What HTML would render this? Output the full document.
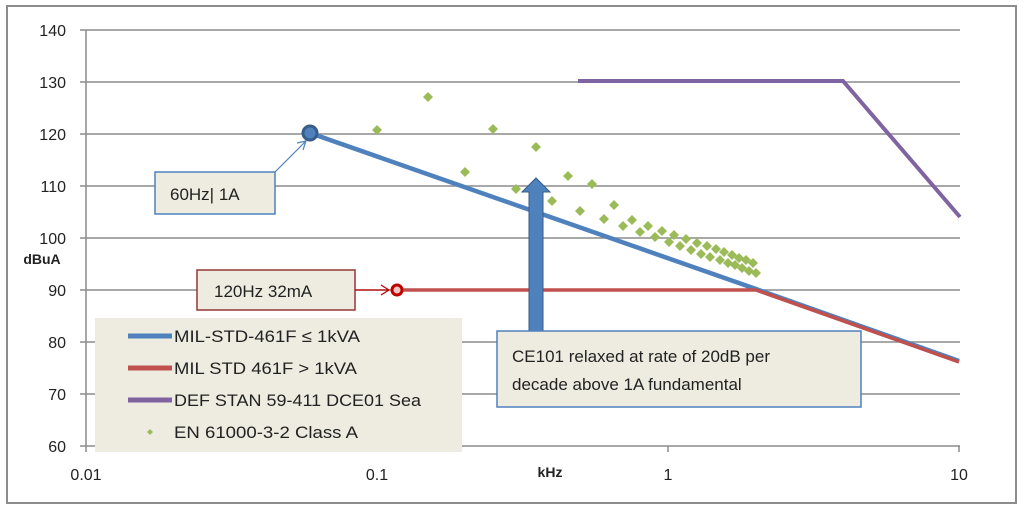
<!DOCTYPE html>
<html><head><style>
html,body{margin:0;padding:0;background:#fff;}
svg{display:block;font-family:"Liberation Sans",sans-serif;}
</style></head><body>
<svg width="1024" height="509" viewBox="0 0 1024 509" xmlns="http://www.w3.org/2000/svg">
<rect x="7" y="6" width="1009" height="497" fill="#fff" stroke="#8c8c8c" stroke-width="2"/>
<g stroke="#8c8c8c" stroke-width="1.5">
<line x1="86" y1="30" x2="960" y2="30"/><line x1="86" y1="82" x2="960" y2="82"/>
<line x1="86" y1="134" x2="960" y2="134"/><line x1="86" y1="186" x2="960" y2="186"/>
<line x1="86" y1="238" x2="960" y2="238"/><line x1="86" y1="290" x2="960" y2="290"/>
<line x1="86" y1="342" x2="960" y2="342"/><line x1="86" y1="394" x2="960" y2="394"/>
<line x1="86" y1="446" x2="960" y2="446"/>
<line x1="86" y1="30" x2="86" y2="452"/>
<line x1="80" y1="30" x2="86" y2="30"/><line x1="80" y1="82" x2="86" y2="82"/><line x1="80" y1="134" x2="86" y2="134"/><line x1="80" y1="186" x2="86" y2="186"/><line x1="80" y1="238" x2="86" y2="238"/><line x1="80" y1="290" x2="86" y2="290"/><line x1="80" y1="342" x2="86" y2="342"/><line x1="80" y1="394" x2="86" y2="394"/><line x1="80" y1="446" x2="86" y2="446"/>
<line x1="377" y1="446" x2="377" y2="452"/><line x1="668" y1="446" x2="668" y2="452"/><line x1="959" y1="446" x2="959" y2="452"/>
</g>
<g font-size="16" fill="#222" text-anchor="end">
<text x="66" y="36">140</text><text x="66" y="88">130</text><text x="66" y="140">120</text><text x="66" y="192">110</text><text x="66" y="244">100</text><text x="66" y="296">90</text><text x="66" y="348">80</text><text x="66" y="400">70</text><text x="66" y="452">60</text>
</g>
<g font-size="16" fill="#222" text-anchor="middle">
<text x="86" y="480">0.01</text><text x="377" y="480">0.1</text><text x="668" y="480">1</text><text x="959" y="480">10</text>
</g>
<text x="550" y="477" font-size="14" font-weight="bold" text-anchor="middle" fill="#222">kHz</text>
<text x="42" y="264" font-size="14" font-weight="bold" text-anchor="middle" fill="#222">dBuA</text>
<!-- series -->
<polyline points="578,81 843,81 960,217" fill="none" stroke="#8064a2" stroke-width="4"/>
<polyline points="310,133 756,289 959,361" fill="none" stroke="#4f81bd" stroke-width="4.5"/>
<polyline points="397,290 756,290 959,362" fill="none" stroke="#c0504d" stroke-width="3.5"/>
<circle cx="310" cy="133" r="7" fill="#4f81bd" stroke="#385d8a" stroke-width="3"/>
<circle cx="397" cy="290" r="5" fill="#f2c4c4" stroke="#c00000" stroke-width="3"/>
<g fill="#9bbb59">
<path d="M0,-5 L5,0 L0,5 L-5,0Z" transform="translate(377,130)"/>
<path d="M0,-5 L5,0 L0,5 L-5,0Z" transform="translate(428,97)"/>
<path d="M0,-5 L5,0 L0,5 L-5,0Z" transform="translate(493,129)"/>
<path d="M0,-5 L5,0 L0,5 L-5,0Z" transform="translate(465,172)"/>
<path d="M0,-5 L5,0 L0,5 L-5,0Z" transform="translate(536,147)"/>
<path d="M0,-5 L5,0 L0,5 L-5,0Z" transform="translate(516,189)"/>
<path d="M0,-5 L5,0 L0,5 L-5,0Z" transform="translate(568,176)"/>
<path d="M0,-5 L5,0 L0,5 L-5,0Z" transform="translate(552,201)"/>
<path d="M0,-5 L5,0 L0,5 L-5,0Z" transform="translate(592,184)"/>
<path d="M0,-5 L5,0 L0,5 L-5,0Z" transform="translate(580,211)"/>
<path d="M0,-5 L5,0 L0,5 L-5,0Z" transform="translate(614,205)"/>
<path d="M0,-5 L5,0 L0,5 L-5,0Z" transform="translate(604,219)"/>
<path d="M0,-5 L5,0 L0,5 L-5,0Z" transform="translate(632,220)"/>
<path d="M0,-5 L5,0 L0,5 L-5,0Z" transform="translate(623,226)"/>
<path d="M0,-5 L5,0 L0,5 L-5,0Z" transform="translate(648,226)"/>
<path d="M0,-5 L5,0 L0,5 L-5,0Z" transform="translate(640,232)"/>
<path d="M0,-5 L5,0 L0,5 L-5,0Z" transform="translate(662,231)"/>
<path d="M0,-5 L5,0 L0,5 L-5,0Z" transform="translate(655,237)"/>
<path d="M0,-5 L5,0 L0,5 L-5,0Z" transform="translate(674,235)"/>
<path d="M0,-5 L5,0 L0,5 L-5,0Z" transform="translate(669,242)"/>
<path d="M0,-5 L5,0 L0,5 L-5,0Z" transform="translate(686,239)"/>
<path d="M0,-5 L5,0 L0,5 L-5,0Z" transform="translate(680,246)"/>
<path d="M0,-5 L5,0 L0,5 L-5,0Z" transform="translate(697,243)"/>
<path d="M0,-5 L5,0 L0,5 L-5,0Z" transform="translate(691,250)"/>
<path d="M0,-5 L5,0 L0,5 L-5,0Z" transform="translate(707,246)"/>
<path d="M0,-5 L5,0 L0,5 L-5,0Z" transform="translate(701,254)"/>
<path d="M0,-5 L5,0 L0,5 L-5,0Z" transform="translate(716,249)"/>
<path d="M0,-5 L5,0 L0,5 L-5,0Z" transform="translate(710,257)"/>
<path d="M0,-5 L5,0 L0,5 L-5,0Z" transform="translate(724,252)"/>
<path d="M0,-5 L5,0 L0,5 L-5,0Z" transform="translate(720,260)"/>
<path d="M0,-5 L5,0 L0,5 L-5,0Z" transform="translate(732,255)"/>
<path d="M0,-5 L5,0 L0,5 L-5,0Z" transform="translate(728,263)"/>
<path d="M0,-5 L5,0 L0,5 L-5,0Z" transform="translate(739,258)"/>
<path d="M0,-5 L5,0 L0,5 L-5,0Z" transform="translate(735,265)"/>
<path d="M0,-5 L5,0 L0,5 L-5,0Z" transform="translate(746,260)"/>
<path d="M0,-5 L5,0 L0,5 L-5,0Z" transform="translate(742,268)"/>
<path d="M0,-5 L5,0 L0,5 L-5,0Z" transform="translate(753,263)"/>
<path d="M0,-5 L5,0 L0,5 L-5,0Z" transform="translate(749,271)"/>
<path d="M0,-5 L5,0 L0,5 L-5,0Z" transform="translate(756,273)"/>
</g>
<!-- big arrow -->
<path d="M529,331 L529,192 L522,192 L536,178 L550,192 L543,192 L543,331Z" fill="#4f81bd" stroke="#385d8a" stroke-width="1"/>
<!-- legend -->
<rect x="95" y="318" width="367" height="134" fill="#eeece1"/>
<line x1="128" y1="336" x2="172" y2="336" stroke="#4f81bd" stroke-width="5"/>
<line x1="128" y1="368" x2="172" y2="368" stroke="#c0504d" stroke-width="5"/>
<line x1="128" y1="400" x2="172" y2="400" stroke="#8064a2" stroke-width="5"/>
<path d="M150,429 L153,432 L150,435 L147,432Z" fill="#9bbb59"/>
<g font-size="17" fill="#222">
<text x="174" y="342" textLength="186" lengthAdjust="spacingAndGlyphs">MIL-STD-461F ≤ 1kVA</text>
<text x="174" y="374" textLength="183" lengthAdjust="spacingAndGlyphs">MIL STD 461F &gt; 1kVA</text>
<text x="174" y="406" textLength="247" lengthAdjust="spacingAndGlyphs">DEF STAN 59-411 DCE01 Sea</text>
<text x="174" y="438" textLength="184" lengthAdjust="spacingAndGlyphs">EN 61000-3-2 Class A</text>
</g>
<!-- callouts -->
<rect x="155" y="172" width="120" height="42" fill="#eeece1" stroke="#4f81bd" stroke-width="1.5"/>
<text x="170" y="200" font-size="17" fill="#222">60Hz| 1A</text>
<line x1="275" y1="172" x2="305" y2="142" stroke="#4f81bd" stroke-width="1.2"/>
<path d="M297,143 L306,141 L303,150" fill="none" stroke="#4f81bd" stroke-width="1.2"/>
<rect x="197" y="270" width="158" height="40" fill="#eeece1" stroke="#953735" stroke-width="1.5"/>
<text x="214" y="297" font-size="17" fill="#222">120Hz 32mA</text>
<line x1="355" y1="290" x2="388" y2="290" stroke="#c00000" stroke-width="1.2"/>
<path d="M381,285 L389,290 L381,295" fill="none" stroke="#c00000" stroke-width="1.2"/>
<rect x="497" y="331" width="364" height="76" fill="#eeece1" stroke="#4f81bd" stroke-width="1.5"/>
<text x="512" y="362" font-size="17" fill="#222">CE101 relaxed at rate of 20dB per</text>
<text x="512" y="390" font-size="17" fill="#222">decade above 1A fundamental</text>
</svg>
</body></html>
